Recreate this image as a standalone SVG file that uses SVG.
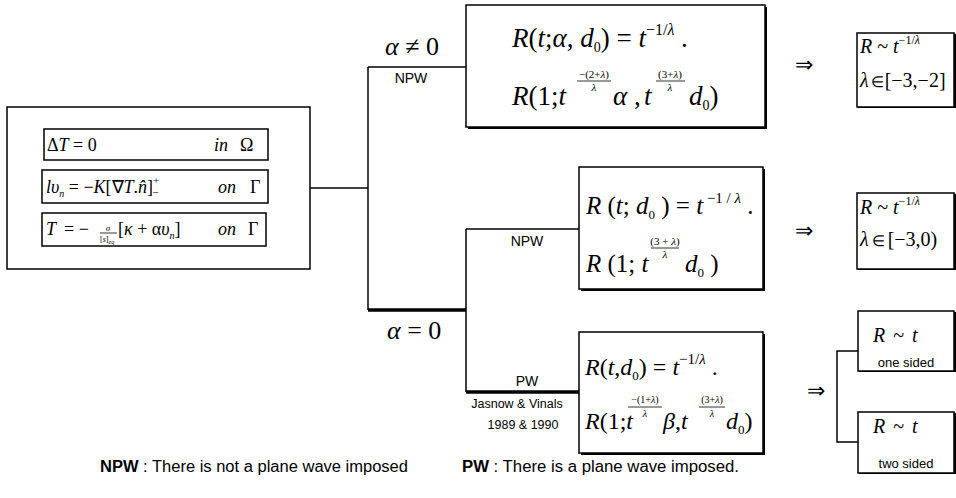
<svg xmlns="http://www.w3.org/2000/svg" width="956" height="498" viewBox="0 0 956 498">
<style>
.box{fill:#fff;stroke:#000;stroke-width:1.5}
.sh{fill:#000}
.ln{stroke:#000;stroke-width:1.5;fill:none}
.thick{stroke:#000;stroke-width:3.5;fill:none}
.mi{font-family:"Liberation Serif",serif;font-style:italic;fill:#000}
.mr{font-family:"Liberation Serif",serif;font-style:normal;fill:#000}
.up{font-style:normal}
.sans{font-family:"Liberation Sans",Arial,sans-serif;fill:#000}
.fb{stroke:#000;stroke-width:0.8}
</style>
<rect width="956" height="498" fill="#fff"/>

<g id="connectors">
<path class="ln" d="M310,188 H368"/>
<path class="ln" d="M368,67 V310"/>
<path class="ln" d="M368,67 H466"/>
<path class="thick" d="M368,310 H466"/>
<path class="ln" stroke-width="2" d="M466,229 V392"/>
<path class="ln" d="M466,229 H579"/>
<path class="thick" d="M466,392 H579"/>
<path class="ln" d="M858,351 H837 V442 H858"/>
</g>

<g id="labels">
<text class="mi" font-size="26" x="385" y="55">α<tspan class="up"> ≠ 0</tspan></text>
<text class="sans" font-size="14" x="411" y="83" text-anchor="middle">NPW</text>
<text class="mi" font-size="26" x="387" y="339">α<tspan class="up"> = 0</tspan></text>
<text class="sans" font-size="14" x="527" y="246" text-anchor="middle">NPW</text>
<text class="sans" font-size="14" x="527" y="386" text-anchor="middle">PW</text>
<text class="sans" font-size="12.5" x="517" y="408" text-anchor="middle">Jasnow &amp; Vinals</text>
<text class="sans" font-size="12.5" x="523" y="429" text-anchor="middle">1989 &amp; 1990</text>
<text class="mr" font-size="22" x="795" y="72">⇒</text>
<text class="mr" font-size="22" x="795" y="238">⇒</text>
<text class="mr" font-size="22" x="807" y="398">⇒</text>
</g>

<g id="governing">
<rect class="box" x="7" y="107" width="303" height="162"/>
<rect class="box" x="44" y="129" width="224" height="31"/>
<text class="mr" font-size="18" x="47" y="151">Δ<tspan class="mi">T</tspan> = 0</text>
<text class="mi" font-size="18" x="214" y="151">in<tspan class="up" dx="12">Ω</tspan></text>
<rect class="box" x="42" y="170" width="226" height="33"/>
<text class="mi" font-size="18" x="46" y="193">lυ<tspan font-size="10" dy="4">n</tspan><tspan class="up" dy="-4"> = −</tspan>K<tspan class="up">[∇</tspan>T<tspan class="up">.</tspan>n̂<tspan class="up">]</tspan><tspan class="up" font-size="11" dy="-9">+</tspan><tspan class="up" font-size="11" dx="-7" dy="12">−</tspan></text>
<text class="mi" font-size="18" x="218" y="193">on<tspan class="up" dx="14">Γ</tspan></text>
<rect class="box" x="42" y="213" width="224" height="33"/>
<text class="mi" font-size="18" x="46" y="235">T<tspan class="up" dx="8">= −</tspan></text>
<text class="mi" font-size="9" x="108" y="231" text-anchor="middle">σ</text>
<path class="fb" d="M100,233 H117"/>
<text class="mr" font-size="8" x="100" y="242">[<tspan class="mi">s</tspan>]<tspan class="mi" font-size="6" dy="2">eq</tspan></text>
<text class="mi" font-size="18" x="118" y="235"><tspan class="up">[</tspan>κ<tspan class="up"> + α</tspan>υ<tspan font-size="10" dy="4">n</tspan><tspan class="up" dy="-4">]</tspan></text>
<text class="mi" font-size="18" x="218" y="235">on<tspan class="up" dx="12">Γ</tspan></text>
</g>

<g id="case-npw-alpha">
<rect class="sh" x="468" y="7" width="299" height="122"/>
<rect class="box" x="466" y="5" width="299" height="122"/>
<text class="mi" font-size="27" x="512" y="47">R<tspan class="up">(</tspan>t<tspan class="up">;</tspan>α<tspan class="up">, </tspan>d<tspan class="up" font-size="14" dy="5">0</tspan><tspan class="up" dy="-5">) = </tspan>t<tspan class="up" font-size="16" dy="-12">−1/</tspan><tspan font-size="16">λ</tspan><tspan class="up" dy="12"> .</tspan></text>
<text class="mi" font-size="27" x="512" y="105">R<tspan class="up">(1;</tspan>t</text>
<text class="mr" font-size="11" x="594" y="78" text-anchor="middle">−(2+<tspan class="mi">λ</tspan>)</text>
<path class="fb" d="M577,81 H611"/>
<text class="mi" font-size="11" x="594" y="91" text-anchor="middle">λ</text>
<text class="mi" font-size="27" x="613" y="105">α<tspan class="up"> ,</tspan></text>
<text class="mi" font-size="27" x="644" y="105">t</text>
<text class="mr" font-size="11" x="670" y="78" text-anchor="middle">(3+<tspan class="mi">λ</tspan>)</text>
<path class="fb" d="M656,81 H685"/>
<text class="mi" font-size="11" x="670" y="91" text-anchor="middle">λ</text>
<text class="mi" font-size="27" x="689" y="105">d<tspan class="up" font-size="14" dy="5">0</tspan><tspan class="up" dy="-5">)</tspan></text>
</g>

<g id="case-npw-zero">
<rect class="sh" x="581" y="169" width="184" height="122"/>
<rect class="box" x="579" y="167" width="184" height="122"/>
<text class="mi" font-size="25" x="586" y="214">R<tspan class="up"> (</tspan>t<tspan class="up">; </tspan>d<tspan class="up" font-size="13" dy="5">0</tspan><tspan class="up" dy="-5"> ) = </tspan>t<tspan class="up" font-size="15" dy="-11"> −1 / </tspan><tspan font-size="15">λ</tspan><tspan class="up" dy="11"> .</tspan></text>
<text class="mi" font-size="25" x="586" y="272">R<tspan class="up"> (1; </tspan>t</text>
<text class="mr" font-size="11" x="665" y="245" text-anchor="middle">(3 + <tspan class="mi">λ</tspan>)</text>
<path class="fb" d="M651,248 H679"/>
<text class="mi" font-size="11" x="665" y="258" text-anchor="middle">λ</text>
<text class="mi" font-size="25" x="685" y="272">d<tspan class="up" font-size="13" dy="5">0</tspan><tspan class="up" dy="-5"> )</tspan></text>
</g>

<g id="case-pw">
<rect class="sh" x="581" y="334" width="184" height="121"/>
<rect class="box" x="579" y="332" width="184" height="121"/>
<text class="mi" font-size="24" x="585" y="375">R<tspan class="up">(</tspan>t<tspan class="up">,</tspan>d<tspan class="up" font-size="13" dy="5">0</tspan><tspan class="up" dy="-5">) = </tspan>t<tspan class="up" font-size="15" dy="-11">−1/</tspan><tspan font-size="15">λ</tspan><tspan class="up" dy="11"> .</tspan></text>
<text class="mi" font-size="24" x="585" y="429">R<tspan class="up">(1;</tspan>t</text>
<text class="mr" font-size="10" x="645" y="403" text-anchor="middle">−(1+<tspan class="mi">λ</tspan>)</text>
<path class="fb" d="M628,407 H662"/>
<text class="mi" font-size="10" x="645" y="417" text-anchor="middle">λ</text>
<text class="mi" font-size="24" x="663" y="429">β<tspan class="up">,</tspan>t</text>
<text class="mr" font-size="10" x="712" y="403" text-anchor="middle">(3+<tspan class="mi">λ</tspan>)</text>
<path class="fb" d="M699,407 H725"/>
<text class="mi" font-size="10" x="712" y="417" text-anchor="middle">λ</text>
<text class="mi" font-size="24" x="726" y="429">d<tspan class="up" font-size="13" dy="5">0</tspan><tspan class="up" dy="-5">)</tspan></text>
</g>

<g id="result-1">
<rect class="sh" x="858" y="34" width="98" height="74"/>
<rect class="box" x="857" y="33" width="97" height="74"/>
<text class="mi" font-size="20" x="860" y="53">R<tspan class="up"> ~ </tspan>t<tspan class="up" font-size="12" dy="-9">−1/</tspan><tspan font-size="12">λ</tspan></text>
<text class="mi" font-size="20" x="860" y="87">λ<tspan class="up" font-size="15" dx="2">∈</tspan><tspan class="up" dx="1">[−3,−2]</tspan></text>
</g>

<g id="result-2">
<rect class="sh" x="858" y="194" width="98" height="76"/>
<rect class="box" x="857" y="193" width="97" height="76"/>
<text class="mi" font-size="20" x="860" y="214">R<tspan class="up"> ~ </tspan>t<tspan class="up" font-size="12" dy="-9">−1/</tspan><tspan font-size="12">λ</tspan></text>
<text class="mi" font-size="20" x="860" y="246">λ<tspan class="up" font-size="15" dx="3">∈</tspan><tspan class="up" dx="3">[−3,0)</tspan></text>
</g>

<g id="result-one-sided">
<rect class="sh" x="859" y="312" width="97" height="60"/>
<rect class="box" x="858" y="311" width="96" height="60"/>
<text class="mi" font-size="20" x="873" y="342">R<tspan class="up" dx="8">~</tspan><tspan dx="8">t</tspan></text>
<text class="sans" font-size="13" x="906" y="367" text-anchor="middle">one sided</text>
</g>

<g id="result-two-sided">
<rect class="sh" x="859" y="413" width="97" height="61"/>
<rect class="box" x="858" y="412" width="96" height="61"/>
<text class="mi" font-size="20" x="873" y="433">R<tspan class="up" dx="8">~</tspan><tspan dx="8">t</tspan></text>
<text class="sans" font-size="13" x="906" y="468" text-anchor="middle">two sided</text>
</g>

<g id="legend">
<text class="sans" font-size="16" x="100" y="472" textLength="308" lengthAdjust="spacingAndGlyphs"><tspan font-weight="bold">NPW</tspan> : There is  not a plane wave imposed</text>
<text class="sans" font-size="16" x="462" y="472" textLength="277" lengthAdjust="spacingAndGlyphs"><tspan font-weight="bold">PW</tspan> : There is a plane wave imposed.</text>
</g>
</svg>
